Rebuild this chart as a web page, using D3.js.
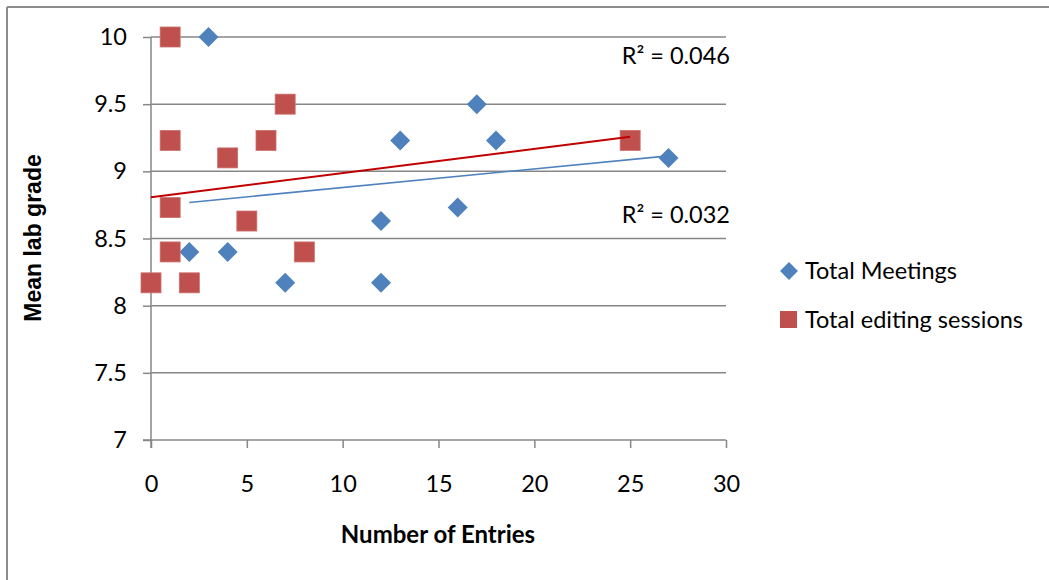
<!DOCTYPE html>
<html>
<head>
<meta charset="utf-8">
<script src="https://cdn.jsdelivr.net/npm/d3@7"></script>
<style>
    body { margin: 0; background: #fff; }
    svg { display: block; }
    text { font-family: Lato, "Open Sans", sans-serif; fill: #000; }
</style>
</head>
<body>
<div id="chart"></div>
<script>
// data (one meeting point sits under the red square at 6)
var meetingsX = [2, 3, 4, 6, 7, 12, 12, 13, 16, 17, 18, 27];
var meetingsY = [8.4, 10, 8.4, 9.23, 8.17, 8.63, 8.17, 9.23, 8.73, 9.5, 9.23, 9.1];

var editingX = [0, 1, 1, 1, 1, 2, 4, 5, 6, 7, 8, 25];
var editingY = [8.17, 10, 9.23, 8.73, 8.4, 8.17, 9.1, 8.63, 9.23, 9.5, 8.4, 9.23];

var xTicks = [0, 5, 10, 15, 20, 25, 30];
var yTicks = [7, 7.5, 8, 8.5, 9, 9.5, 10];

var seriesNames = ['Total Meetings', 'Total editing sessions'];

var W = 1049, H = 580;
var blue = '#4F81BD', red = '#C0504D', grid = '#878787';
var fs = 23.5;

var svg = d3.select('#chart').append('svg')
    .attr('width', W).attr('height', H);

// outer chart border (only top + left visible in the crop)
svg.append('line').attr('x1', 7).attr('x2', W).attr('y1', 7).attr('y2', 7)
    .attr('stroke', '#8c8c8c').attr('stroke-width', 2);
svg.append('line').attr('x1', 7).attr('x2', 7).attr('y1', 7).attr('y2', H)
    .attr('stroke', '#8c8c8c').attr('stroke-width', 2);

var x = d3.scaleLinear().domain([0, 30]).range([151, 726]);
var y = d3.scaleLinear().domain([7, 10]).range([440, 37]);

// gridlines
svg.append('g').selectAll('line').data(yTicks.slice(1)).join('line')
    .attr('x1', x(0)).attr('x2', x(30))
    .attr('y1', function (d) { return y(d); }).attr('y2', function (d) { return y(d); })
    .attr('stroke', grid).attr('stroke-width', 1.5);

// y axis
var yAxis = svg.append('g').attr('transform', 'translate(' + x(0) + ',0)')
    .call(d3.axisLeft(y).tickValues(yTicks).tickSize(8).tickPadding(16)
        .tickFormat(function (d) { return d; }));
yAxis.select('.domain').attr('stroke', grid).attr('stroke-width', 1.5)
    .attr('d', 'M0,' + y(10) + 'V' + (y(7) + 8));
yAxis.selectAll('.tick line').attr('stroke', grid).attr('stroke-width', 1.5);
yAxis.selectAll('.tick text').attr('font-size', fs).attr('font-family', 'Lato').attr('fill', '#000');

// x axis
var xAxis = svg.append('g').attr('transform', 'translate(0,' + y(7) + ')')
    .call(d3.axisBottom(x).tickValues(xTicks).tickSize(8).tickPadding(27));
xAxis.select('.domain').attr('stroke', grid).attr('stroke-width', 1.5)
    .attr('d', 'M' + (x(0) - 8) + ',0H' + x(30));
xAxis.selectAll('.tick line').attr('stroke', grid).attr('stroke-width', 1.5);
xAxis.selectAll('.tick text').attr('font-size', fs).attr('font-family', 'Lato').attr('fill', '#000');

// axis titles
svg.append('text').attr('x', 438).attr('y', 543)
    .attr('text-anchor', 'middle').attr('font-size', 24).attr('font-weight', 'bold')
    .text('Number of Entries');
svg.append('text')
    .attr('transform', 'translate(41,238) rotate(-90)')
    .attr('text-anchor', 'middle').attr('font-size', 23).attr('font-weight', 'bold')
    .style('font-family', '"Liberation Sans", Arial, sans-serif')
    .text('Mean lab grade');

// least squares fit
function fit(xs, ys) {
    var mx = d3.mean(xs), my = d3.mean(ys);
    var sxy = d3.sum(xs, function (v, i) { return (v - mx) * (ys[i] - my); });
    var sxx = d3.sum(xs, function (v) { return (v - mx) * (v - mx); });
    var syy = d3.sum(ys, function (v) { return (v - my) * (v - my); });
    var slope = sxy / sxx;
    return { slope: slope, icpt: my - slope * mx, r2: sxy * sxy / (sxx * syy),
             x0: d3.min(xs), x1: d3.max(xs) };
}

var fitM = fit(meetingsX, meetingsY);
var fitE = fit(editingX, editingY);

function trend(f, color, w) {
    svg.append('line')
        .attr('x1', x(f.x0)).attr('y1', y(f.icpt + f.slope * f.x0))
        .attr('x2', x(f.x1)).attr('y2', y(f.icpt + f.slope * f.x1))
        .attr('stroke', color).attr('stroke-width', w);
}

var diamond = d3.symbol().type(d3.symbolSquare).size(200);

// meetings (diamonds)
svg.append('g').selectAll('path').data(meetingsX).join('path')
    .attr('d', diamond)
    .attr('transform', function (d, i) {
        return 'translate(' + x(d) + ',' + y(meetingsY[i]) + ') rotate(45)';
    })
    .attr('fill', blue);

// editing sessions (squares)
svg.append('g').selectAll('rect').data(editingX).join('rect')
    .attr('x', function (d) { return x(d) - 10; })
    .attr('y', function (d, i) { return y(editingY[i]) - 10; })
    .attr('width', 20).attr('height', 20)
    .attr('fill', red).attr('stroke', '#c9706e').attr('stroke-width', 0.8);

trend(fitE, '#C00000', 2);
trend(fitM, blue, 1.6);

// R² labels
svg.append('text').attr('x', 730).attr('y', 64).attr('text-anchor', 'end')
    .attr('font-size', fs).text('R\u00b2 = ' + fitE.r2.toFixed(3));
svg.append('text').attr('x', 730).attr('y', 223).attr('text-anchor', 'end')
    .attr('font-size', fs).text('R\u00b2 = ' + fitM.r2.toFixed(3));

// legend
var legend = svg.append('g');
legend.append('path').attr('d', d3.symbol().type(d3.symbolSquare).size(160))
    .attr('transform', 'translate(789,271) rotate(45)').attr('fill', blue);
legend.append('rect').attr('x', 780).attr('y', 311).attr('width', 17).attr('height', 17)
    .attr('fill', red);
legend.append('text').attr('x', 805).attr('y', 279).attr('font-size', fs).text(seriesNames[0]);
legend.append('text').attr('x', 805).attr('y', 328).attr('font-size', fs).text(seriesNames[1]);
</script>
</body>
</html>
